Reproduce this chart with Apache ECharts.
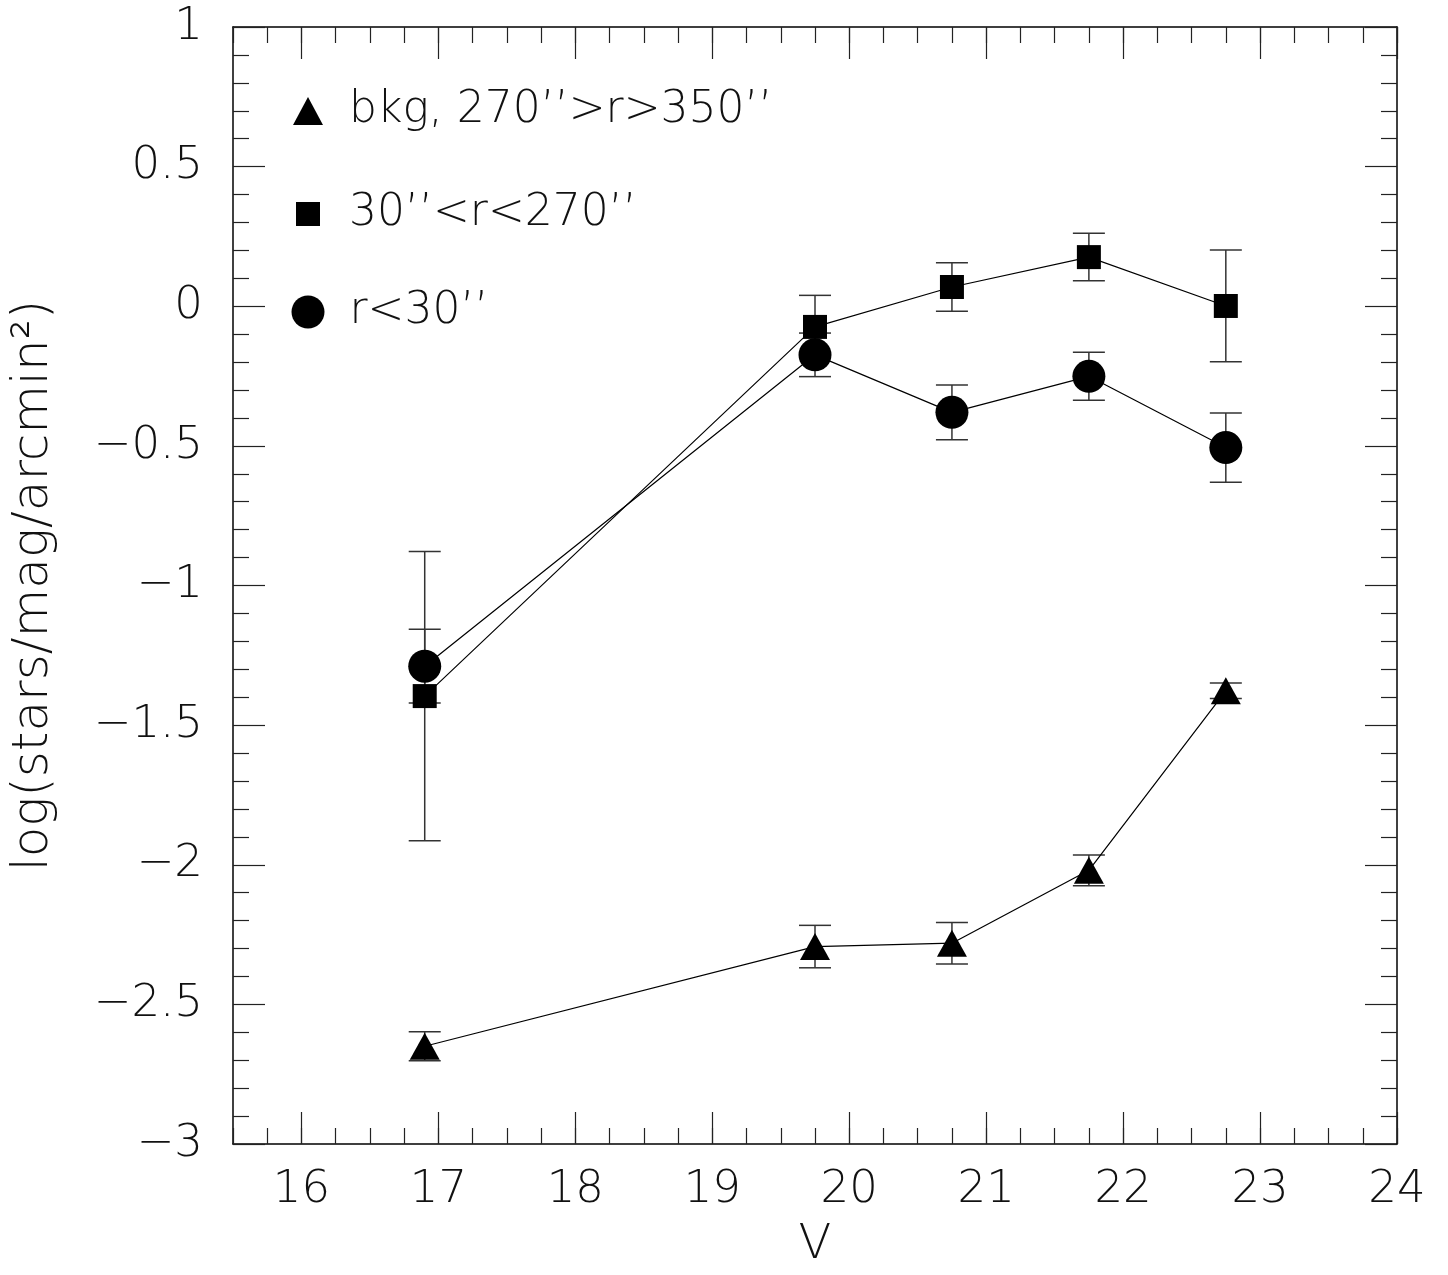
<!DOCTYPE html>
<html>
<head>
<meta charset="utf-8">
<script src="https://cdn.jsdelivr.net/npm/echarts@6/dist/echarts.min.js"></script>
<style>
  html, body { margin: 0; padding: 0; background: #fff; }
  #chart { width: 1448px; height: 1275px; }
</style>
</head>
<body>
<div id="chart"></div>
<script>
// V magnitude bins
var vMag = [16.9, 19.75, 20.75, 21.75, 22.75];

// background annulus
var bkgVal = [-2.65, -2.293, -2.281, -2.02, -1.377];
var bkgErr = [0.052, 0.076, 0.074, 0.055, 0.028];

// 30'' < r < 270''
var midVal = [-1.396, -0.074, 0.069, 0.176, 0.001];
var midErr = [0.518, 0.113, 0.087, 0.085, 0.2];

// r < 30''
var coreVal = [-1.289, -0.174, -0.38, -0.251, -0.506];
var coreErr = [0.132, 0.078, 0.098, 0.086, 0.124];

var xMajorTicks = [16, 17, 18, 19, 20, 21, 22, 23, 24];

var nameBkg = 'bkg, 270\u2019\u2019>r>350\u2019\u2019';
var nameMid = '30\u2019\u2019<r<270\u2019\u2019';
var nameCore = 'r<30\u2019\u2019';

var FONT = "'DejaVu Sans ExtraLight', 'DejaVu Sans Light', 'DejaVu Sans', sans-serif";
var WEIGHT = 200;

// minor ticks every 0.25 mag
var xMinorTicks = [];
for (var t = 15.5; t <= 24.001; t += 0.25) xMinorTicks.push(+t.toFixed(2));

function pairs(vals) {
  return vMag.map(function (x, i) { return [x, vals[i]]; });
}
function bars(vals, errs) {
  return vMag.map(function (x, i) { return [x, vals[i] - errs[i], vals[i] + errs[i]]; });
}

function renderErr(params, api) {
  var x = api.value(0);
  var lo = api.coord([x, api.value(1)]);
  var hi = api.coord([x, api.value(2)]);
  var hw = 16;
  var st = { stroke: '#333', lineWidth: 1.5 };
  return {
    type: 'group',
    children: [
      { type: 'line', shape: { x1: lo[0], y1: lo[1], x2: hi[0], y2: hi[1] }, style: st },
      { type: 'line', shape: { x1: lo[0] - hw, y1: lo[1], x2: lo[0] + hw, y2: lo[1] }, style: st },
      { type: 'line', shape: { x1: hi[0] - hw, y1: hi[1], x2: hi[0] + hw, y2: hi[1] }, style: st }
    ]
  };
}

function xAxisDef(pos, ticks, len, withLine, withLabel) {
  return {
    type: 'value', position: pos, min: 15.5, max: 24,
    axisLine: { show: withLine, onZero: false, lineStyle: { color: '#000', width: 1.5 } },
    axisTick: { show: true, inside: true, length: len, customValues: ticks, lineStyle: { color: '#222', width: 1.2 } },
    axisLabel: withLabel ? {
      show: true, customValues: xMajorTicks, margin: 24,
      fontFamily: FONT, fontWeight: WEIGHT, fontSize: 45, color: '#111'
    } : { show: false },
    splitLine: { show: false }
  };
}

function yAxisDef(pos, withLabel) {
  return {
    type: 'value', position: pos, min: -3, max: 1, interval: 0.5,
    axisLine: { show: true, onZero: false, lineStyle: { color: '#000', width: 1.5 } },
    axisTick: { show: true, inside: true, length: 32, lineStyle: { color: '#222', width: 1.2 } },
    minorTick: { show: true, splitNumber: 5, length: 16, lineStyle: { color: '#222', width: 1.2 } },
    axisLabel: withLabel ? {
      show: true, margin: 30, fontFamily: FONT, fontWeight: WEIGHT, fontSize: 45, color: '#111',
      formatter: function (v) { return String(v).replace('-', '\u2212'); }
    } : { show: false },
    splitLine: { show: false },
    minorSplitLine: { show: false }
  };
}

function legendDef(name, icon, w, h, top, pad) {
  return {
    data: [{ name: name, icon: icon }],
    left: 303 - w / 2, top: top,
    itemWidth: w, itemHeight: h,
    selectedMode: false,
    itemStyle: { color: '#000' },
    textStyle: {
      fontFamily: FONT, fontWeight: WEIGHT, fontSize: 44, color: '#111',
      lineHeight: 50, padding: [0, 0, 0, pad]
    }
  };
}

var chart = echarts.init(document.getElementById('chart'));

var option = {
  animation: false,
  backgroundColor: '#fff',
  grid: { left: 233, right: 51, top: 27, bottom: 128 },
  legend: [
    legendDef(nameBkg, 'triangle', 30, 28, 81, 21),
    legendDef(nameMid, 'rect', 24, 24, 184, 24),
    legendDef(nameCore, 'circle', 33, 33, 282, 20)
  ],
  xAxis: [
    Object.assign(xAxisDef('bottom', xMajorTicks, 32, true, true), {
      name: 'V', nameLocation: 'middle', nameGap: 78,
      nameTextStyle: { fontFamily: FONT, fontWeight: WEIGHT, fontSize: 48, color: '#111' }
    }),
    xAxisDef('bottom', xMinorTicks, 16, false, false),
    xAxisDef('top', xMajorTicks, 32, true, false),
    xAxisDef('top', xMinorTicks, 16, false, false)
  ],
  yAxis: [
    Object.assign(yAxisDef('left', true), {
      name: 'log(stars/mag/arcmin\u00B2)', nameLocation: 'middle', nameGap: 174, nameRotate: 90,
      nameTextStyle: { fontFamily: FONT, fontWeight: WEIGHT, fontSize: 50, color: '#111' }
    }),
    yAxisDef('right', false)
  ],
  series: [
    {
      name: 'bkgErr', type: 'custom', renderItem: renderErr, z: 2,
      encode: { x: 0, y: [1, 2] }, data: bars(bkgVal, bkgErr)
    },
    {
      name: 'midErr', type: 'custom', renderItem: renderErr, z: 2,
      encode: { x: 0, y: [1, 2] }, data: bars(midVal, midErr)
    },
    {
      name: 'coreErr', type: 'custom', renderItem: renderErr, z: 2,
      encode: { x: 0, y: [1, 2] }, data: bars(coreVal, coreErr)
    },
    {
      name: nameBkg, type: 'line', z: 3, data: pairs(bkgVal),
      symbol: 'triangle', symbolSize: [30, 27],
      itemStyle: { color: '#000' }, lineStyle: { color: '#000', width: 1.2 }
    },
    {
      name: nameMid, type: 'line', z: 3, data: pairs(midVal),
      symbol: 'rect', symbolSize: 24,
      itemStyle: { color: '#000' }, lineStyle: { color: '#000', width: 1.2 }
    },
    {
      name: nameCore, type: 'line', z: 3, data: pairs(coreVal),
      symbol: 'circle', symbolSize: 33,
      itemStyle: { color: '#000' }, lineStyle: { color: '#000', width: 1.2 }
    }
  ]
};

chart.setOption(option);
</script>
</body>
</html>
